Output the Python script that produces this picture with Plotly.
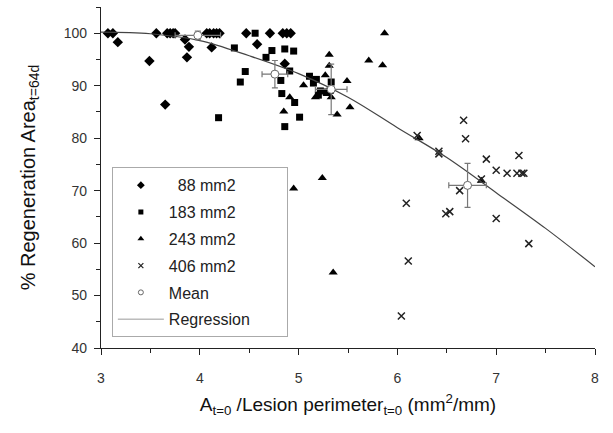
import plotly.graph_objects as go

# 88 mm2 (diamonds)
d88_x = [3.07, 3.12, 3.17, 3.49, 3.56, 3.65, 3.67, 3.70, 3.73, 3.75, 3.85, 3.89, 3.87,
         4.07, 4.10, 4.14, 4.17, 4.20, 4.12, 4.47, 4.58, 4.71, 4.84, 4.88, 4.92, 4.86]
d88_y = [100, 100, 98.3, 94.7, 100, 86.4, 100, 100, 100, 100, 98.8, 97.4, 95.4,
         100, 100, 100, 100, 100, 97.3, 100, 97.9, 100, 100, 100, 100, 94.2]

# 183 mm2 (squares)
s183_x = [4.56, 4.35, 4.73, 4.67, 4.86, 4.95, 4.46, 4.41, 4.82, 4.91, 4.83, 4.19, 4.86,
          4.96, 5.01, 5.11, 5.18, 5.22, 5.33, 5.32, 5.15, 5.20, 5.28]
s183_y = [100, 97.2, 96.7, 95.4, 97.0, 96.6, 92.7, 90.7, 91.0, 92.8, 88.5, 83.9, 82.2,
          86.8, 84.0, 91.8, 91.2, 89.0, 90.7, 89.1, 90.5, 88.2, 88.8]

# 243 mm2 (triangles)
t243_x = [5.87, 5.31, 5.71, 5.85, 5.31, 5.27, 5.49, 5.05, 4.91, 5.17, 4.85, 5.52, 5.39,
          5.33, 6.22, 6.85, 4.95, 5.24, 5.35, 5.29]
t243_y = [100, 95.9, 94.8, 93.9, 93.8, 92.0, 90.9, 90.1, 87.8, 87.8, 85.1, 85.9, 84.5,
          87.8, 80.0, 71.9, 70.4, 72.4, 54.4, 88.4]

# 406 mm2 (crosses)
x406_x = [6.67, 6.69, 6.20, 6.42, 6.42, 6.90, 7.23, 7.00, 7.11, 7.21, 7.26, 7.28, 6.85,
          6.63, 6.09, 6.49, 6.53, 7.00, 7.33, 6.11, 6.04]
x406_y = [83.4, 79.9, 80.5, 77.5, 77.0, 76.0, 76.7, 73.9, 73.3, 73.3, 73.3, 73.3, 72.2,
          70.0, 67.6, 65.6, 66.0, 64.7, 59.9, 56.6, 46.1]

# Means with error bars
mean_x = [3.98, 4.76, 5.33, 6.71]
mean_y = [99.6, 92.2, 89.3, 71.0]
mean_xerr = [0.23, 0.13, 0.16, 0.19]
mean_yerr = [0.8, 2.6, 4.8, 4.2]

# Regression curve
reg_x = [3.0, 3.5, 4.0, 4.5, 5.0, 5.5, 6.0, 6.5, 7.0, 7.5, 8.0]
reg_y = [100.2, 99.9, 98.6, 95.7, 92.3, 87.8, 82.0, 76.3, 69.6, 62.8, 55.5]

x_ticks = [3, 4, 5, 6, 7, 8]
y_ticks = [40, 50, 60, 70, 80, 90, 100]

legend_names = ["\u00a0\u00a088 mm2", "183 mm2", "243 mm2", "406 mm2", "Mean",
                "Regression\u00a0\u00a0\u00a0\u00a0\u00a0\u00a0\u00a0"]

fig = go.Figure()
# data traces
fig.add_trace(go.Scatter(x=d88_x, y=d88_y, mode="markers", showlegend=False,
                         marker=dict(symbol="diamond", size=8, color="black")))
fig.add_trace(go.Scatter(x=s183_x, y=s183_y, mode="markers", showlegend=False,
                         marker=dict(symbol="square", size=7, color="black")))
fig.add_trace(go.Scatter(x=t243_x, y=t243_y, mode="markers", showlegend=False,
                         marker=dict(symbol="triangle-up", size=8, color="black")))
fig.add_trace(go.Scatter(x=x406_x, y=x406_y, mode="markers", showlegend=False,
                         marker=dict(symbol="x-thin", size=7, color="#222",
                                     line=dict(width=1.5, color="#222"))))
fig.add_trace(go.Scatter(x=reg_x, y=reg_y, mode="lines", showlegend=False,
                         line=dict(color="#444", width=1.2, shape="spline")))
fig.add_trace(go.Scatter(x=mean_x, y=mean_y, mode="markers", showlegend=False,
                         marker=dict(symbol="circle", size=8, color="white",
                                     line=dict(width=1, color="#666")),
                         error_x=dict(type="data", array=mean_xerr, color="#777", thickness=1.2, width=3),
                         error_y=dict(type="data", array=mean_yerr, color="#777", thickness=1.2, width=3)))

# legend entries (small symbols like the reference)
leg_styles = [
    dict(mode="markers", marker=dict(symbol="diamond", size=6, color="black")),
    dict(mode="markers", marker=dict(symbol="square", size=5, color="black")),
    dict(mode="markers", marker=dict(symbol="triangle-up", size=6, color="black")),
    dict(mode="markers", marker=dict(symbol="x-thin", size=5, color="#222", line=dict(width=1.2, color="#222"))),
    dict(mode="markers", marker=dict(symbol="circle", size=5, color="white", line=dict(width=1, color="#666"))),
    dict(mode="lines", line=dict(color="#999", width=1)),
]
for i, (nm, st) in enumerate(zip(legend_names, leg_styles)):
    fig.add_trace(go.Scatter(x=[None], y=[None], name=nm, legendgroup=f"g{i}", **st))

fig.update_layout(
    width=613, height=433,
    margin=dict(l=101, r=18, t=7, b=85),
    paper_bgcolor="white", plot_bgcolor="white",
    font=dict(family="Liberation Sans, Arial, sans-serif", color="#222"),
    legend=dict(x=0.022, y=0.53, xanchor="left", yanchor="top",
                bordercolor="#aaa", borderwidth=1, bgcolor="white",
                font=dict(size=16, color="#222"), tracegroupgap=3,
                itemwidth=46),
    showlegend=True,
)
fig.update_xaxes(range=[3, 8], tickvals=x_ticks, showgrid=False, zeroline=False,
                 showline=True, linecolor="#222", linewidth=1.2,
                 ticks="outside", ticklen=6, tickcolor="#222",
                 minor=dict(dtick=0.5, ticks="outside", ticklen=4, tickcolor="#222"),
                 tickfont=dict(size=14, color="#333"), ticklabelstandoff=11,
                 title=dict(text="A<sub>t=0</sub> /Lesion perimeter<sub>t=0</sub> (mm<sup>2</sup>/mm)",
                            font=dict(size=19, color="#111"), standoff=12))
fig.update_yaxes(range=[40, 105], tickvals=y_ticks, showgrid=False, zeroline=False,
                 showline=True, linecolor="#222", linewidth=1.2,
                 ticks="outside", ticklen=6, tickcolor="#222",
                 minor=dict(dtick=5, ticks="outside", ticklen=4, tickcolor="#222"),
                 tickfont=dict(size=14, color="#333"), ticklabelstandoff=4,
                 title=dict(text="% Regeneration Area<sub>t=64d</sub>",
                            font=dict(size=20, color="#111"), standoff=22))

fig.write_html("out.html", config={"displayModeBar": False})

# remove default page margin so the figure sits at the window origin
with open("out.html", "r", encoding="utf-8") as f:
    html = f.read()
html = html.replace("<head>", "<head><style>html,body{margin:0;padding:0;}</style>", 1)
with open("out.html", "w", encoding="utf-8") as f:
    f.write(html)
